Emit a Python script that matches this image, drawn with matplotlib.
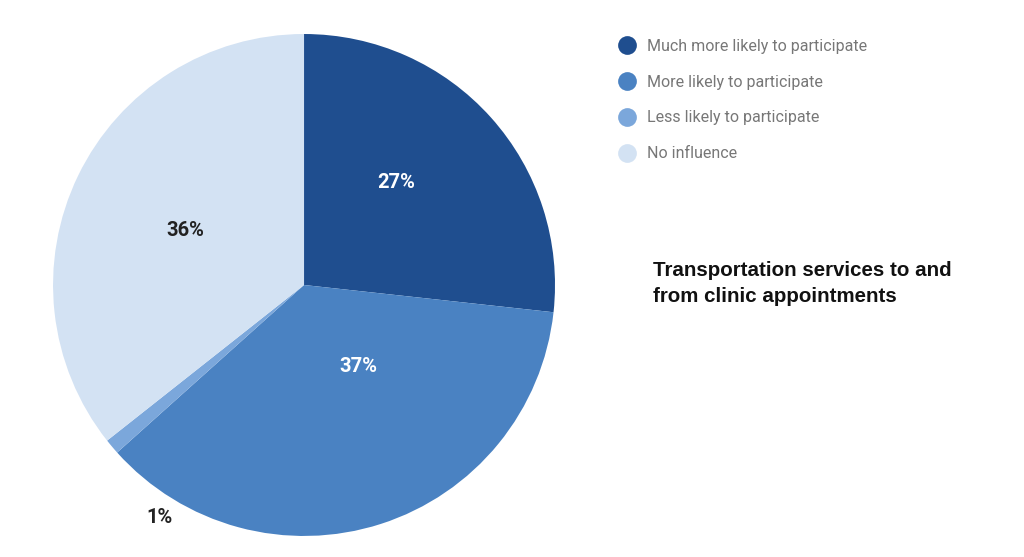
import matplotlib.pyplot as plt
from matplotlib.lines import Line2D
import numpy as np

labels = ["Much more likely to participate", "More likely to participate",
          "Less likely to participate", "No influence"]
values = [27, 37, 1, 36]
pct_text = ["27%", "37%", "1%", "36%"]
colors = ["#1f4e8f", "#4a82c2", "#7ba7db", "#d3e2f3"]
title = "Transportation services to and\nfrom clinic appointments"

fig = plt.figure(figsize=(10.24, 5.57), dpi=100)
ax = fig.add_axes([0.0518, 0.0377, 0.4902, 0.9013])
wedges, _ = ax.pie(values, colors=colors, startangle=90, counterclock=False,
                   radius=1, wedgeprops=dict(linewidth=0))
ax.set_xlim(-1, 1)
ax.set_ylim(-1, 1)
ax.set_aspect("equal")

# label placement: (distance from centre, angle shift in degrees) per wedge
place = [(0.55, 6), (0.39, 16), (1.09, 18), (0.52, 1)]
txt_colors = ["white", "white", "#222222", "#222222"]
for w, t, (r, shift), c in zip(wedges, pct_text, place, txt_colors):
    mid = np.deg2rad((w.theta1 + w.theta2) / 2 + shift)
    ax.text(r * np.cos(mid), r * np.sin(mid), t, ha="center", va="center",
            color=c, fontsize=14.5, fontweight="bold", family="Roboto")

handles = [Line2D([], [], marker="o", linestyle="", markersize=13.5,
                  markerfacecolor=c, markeredgecolor="none") for c in colors]
leg = fig.legend(handles, labels, loc="upper left", bbox_to_anchor=(0.590, 0.956),
                 frameon=False, labelspacing=1.3, handletextpad=0.8,
                 handlelength=1.0, prop=dict(family="Roboto", size=11.5))
for t in leg.get_texts():
    t.set_color("#777777")

fig.text(0.638, 0.531, title, ha="left", va="top", fontsize=14.8,
         fontweight="bold", family="Liberation Sans", color="#111111",
         linespacing=1.42)

fig.savefig("out.png", dpi=100)
